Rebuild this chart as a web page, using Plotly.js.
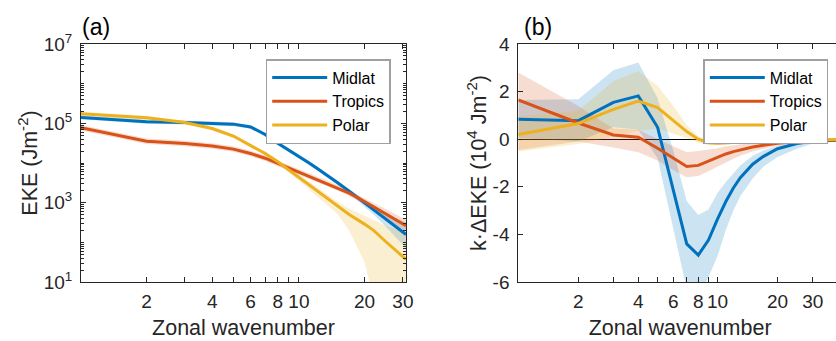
<!DOCTYPE html>
<html>
<head>
<meta charset="utf-8">
<script src="https://cdn.plot.ly/plotly-3.0.1.min.js"></script>
<style>html,body{margin:0;padding:0;overflow:hidden;background:#fff}</style>
</head>
<body>
<div id="chart"></div>
<script>
// ---------- Panel (a): EKE spectra (J m^-2) ----------
const kA = [1,2,3,4,5,6,7,8,9,10,11,12,13,14,15,17,20,22,25,28,31];
const midlatA    = [1.41e5,1.10e5,1.05e5,1.00e5,9.55e4,8.13e4,5.25e4,3.16e4,2.14e4,1.48e4,1.05e4,7.59e3,5.62e3,4.27e3,3.24e3,1.95e3,1.0e3,676,398,245,158];
const midlatA_lo = [1.26e5,9.8e4,9.35e4,8.9e4,8.5e4,7.25e4,4.68e4,2.82e4,1.91e4,1.32e4,9.36e3,6.76e3,5.0e3,3.8e3,2.89e3,1.70e3,794,501,251,132,71];
const midlatA_hi = [1.58e5,1.23e5,1.18e5,1.12e5,1.07e5,9.1e4,5.9e4,3.55e4,2.4e4,1.66e4,1.18e4,8.51e3,6.31e3,4.79e3,3.63e3,2.24e3,1.175e3,851,562,407,316];
const tropicsA    = [7.76e4,3.55e4,3.09e4,2.69e4,2.24e4,1.74e4,1.32e4,9.77e3,7.41e3,5.89e3,4.79e3,3.98e3,3.31e3,2.82e3,2.40e3,1.74e3,1.07e3,794,525,363,263];
const tropicsA_lo = [6.6e4,3.02e4,2.63e4,2.29e4,1.91e4,1.48e4,1.12e4,8.31e3,6.31e3,5.01e3,4.08e3,3.39e3,2.82e3,2.4e3,2.04e3,1.48e3,911,646,398,263,186];
const tropicsA_hi = [9.12e4,4.17e4,3.63e4,3.16e4,2.63e4,2.04e4,1.55e4,1.15e4,8.71e3,6.92e3,5.63e3,4.68e3,3.89e3,3.31e3,2.82e3,2.04e3,1.26e3,977,692,501,372];
const polarA    = [1.74e5,1.38e5,1.05e5,7.41e4,4.79e4,2.82e4,1.74e4,1.07e4,6.61e3,4.27e3,2.88e3,2.04e3,1.48e3,1.07e3,813,501,288,200,105,61.7,37.2];
const polarA_lo = [1.55e5,1.23e5,9.33e4,6.61e4,4.27e4,2.51e4,1.55e4,9.55e3,5.5e3,3.55e3,2.29e3,1.51e3,1.0e3,708,525,200,31.6,4,1,1,1];
const polarA_hi = [1.95e5,1.55e5,1.17e5,8.32e4,5.37e4,3.16e4,1.95e4,1.2e4,7.59e3,5.13e3,3.55e3,2.57e3,1.91e3,1.41e3,1.07e3,708,457,355,263,214,178];

// ---------- Panel (b): k * delta EKE (10^4 J m^-2) ----------
const kB = [1,2,3,4,5,6,7,8,9,10,11,12,13,15,17,20,25,30,40,46];
const midlatB    = [0.84,0.78,1.55,1.82,0.5,-2.1,-4.4,-4.87,-4.24,-3.35,-2.62,-2.05,-1.62,-1.05,-0.72,-0.4,-0.18,-0.09,-0.04,-0.02];
const midlatB_hi = [1.65,1.68,2.9,3.22,1.72,-0.5,-2.6,-3.18,-2.95,-2.25,-1.8,-1.42,-1.1,-0.7,-0.47,-0.27,-0.13,-0.07,-0.03,-0.01];
const midlatB_lo = [0.05,-0.1,0.5,0.4,-0.8,-3.8,-6.3,-6.6,-5.8,-4.9,-3.8,-3.0,-2.4,-1.65,-1.15,-0.75,-0.4,-0.18,-0.07,-0.04];
const tropicsB    = [1.65,0.68,0.18,0.08,-0.38,-0.8,-1.15,-1.1,-0.92,-0.75,-0.62,-0.52,-0.45,-0.33,-0.25,-0.17,-0.1,-0.06,-0.03,-0.02];
const tropicsB_hi = [2.8,1.4,0.45,0.4,0.0,-0.3,-0.55,-0.5,-0.45,-0.38,-0.3,-0.25,-0.22,-0.15,-0.1,-0.07,-0.04,-0.02,-0.01,0];
const tropicsB_lo = [-0.45,-0.1,-0.35,-0.55,-0.9,-1.3,-1.6,-1.55,-1.35,-1.15,-0.95,-0.82,-0.7,-0.52,-0.4,-0.28,-0.17,-0.1,-0.05,-0.03];
const polarB    = [0.2,0.66,1.25,1.6,1.33,0.8,0.32,0.0,-0.15,-0.17,-0.15,-0.13,-0.11,-0.08,-0.06,-0.05,-0.03,-0.02,-0.01,-0.01];
const polarB_hi = [0.95,1.2,2.45,2.85,2.25,1.4,0.6,0.12,-0.05,-0.08,-0.08,-0.07,-0.06,-0.04,-0.03,-0.02,-0.01,0,0,0];
const polarB_lo = [-0.52,-0.2,0.1,0.35,0.45,0.25,0.05,-0.15,-0.25,-0.25,-0.22,-0.2,-0.17,-0.13,-0.1,-0.08,-0.05,-0.04,-0.02,-0.02];

const seriesNames = ['Midlat','Tropics','Polar'];
const lineColors = ['#0072BD','#D95319','#EDB120'];
const bandColors = ['rgba(0,114,189,0.2)','rgba(217,83,25,0.2)','rgba(237,177,32,0.2)'];

const xTickVals = [2,4,6,8,10,20,30];
const xTickText = ['2','4','6','8','10','20','30'];
const xMinorVals = [3,5,7,9];
const yTickValsA = [1e1,1e3,1e5,1e7];
const yTickTextA = ['10<sup>1</sup>','10<sup>3</sup>','10<sup>5</sup>','10<sup>7</sup>'];
const yTickValsB = [-6,-4,-2,0,2,4];

const W = 842, H = 352;
const FONT = '"Liberation Sans", Arial, Helvetica, sans-serif';
const AX = '#262626';

const minorY = [];
for (let d = 1; d < 7; d++) for (let m = 2; m <= 10; m++) { const v = m * Math.pow(10, d); if (v !== 1e3 && v !== 1e5 && v !== 1e7) minorY.push(v); }

const traces = [];
const panels = [
  {k: kA, xa: 'x', ya: 'y', leg: 'legend', data: [[midlatA,midlatA_lo,midlatA_hi],[tropicsA,tropicsA_lo,tropicsA_hi],[polarA,polarA_lo,polarA_hi]]},
  {k: kB, xa: 'x2', ya: 'y2', leg: 'legend2', data: [[midlatB,midlatB_lo,midlatB_hi],[tropicsB,tropicsB_lo,tropicsB_hi],[polarB,polarB_lo,polarB_hi]]}
];
panels.forEach(p => {
  p.data.forEach((s, i) => {
    traces.push({x: p.k, y: s[1], xaxis: p.xa, yaxis: p.ya, mode: 'lines', line: {width: 0, color: bandColors[i]}, showlegend: false, hoverinfo: 'skip', legend: p.leg});
    traces.push({x: p.k, y: s[2], xaxis: p.xa, yaxis: p.ya, mode: 'lines', line: {width: 0, color: bandColors[i]}, fill: 'tonexty', fillcolor: bandColors[i], showlegend: false, hoverinfo: 'skip', legend: p.leg});
  });
  p.data.forEach((s, i) => {
    traces.push({x: p.k, y: s[0], xaxis: p.xa, yaxis: p.ya, mode: 'lines', name: seriesNames[i], legend: p.leg, line: {width: 3, color: lineColors[i]}});
  });
});

const TICKFONT = {family: FONT, size: 19, color: AX};
const TITLEFONT = {family: FONT, size: 21.5, color: AX};
const axBase = {
  showline: true, linecolor: AX, linewidth: 1, mirror: 'allticks',
  ticks: 'inside', ticklen: 5, tickcolor: AX, tickwidth: 1,
  showgrid: false, zeroline: false, tickfont: TICKFONT
};
const xMinor = {tickvals: xMinorVals, ticks: 'inside', ticklen: 5, tickcolor: AX, tickwidth: 1};

const PT = 44, PB = 282;               // plot area top / bottom in px
const legBase = {
  bgcolor: '#ffffff', bordercolor: '#a0a0a0', borderwidth: 1.5,
  font: {family: FONT, size: 16, color: '#000'}, traceorder: 'normal',
  itemwidth: 55, tracegroupgap: 0, xanchor: 'right', yanchor: 'top', y: (PB-59)/(PB-PT)
};

const layout = {
  width: W, height: H,
  margin: {l: 0, r: 0, t: PT, b: H-PB},
  paper_bgcolor: '#fff', plot_bgcolor: '#fff',
  font: {family: FONT, color: AX},
  xaxis: Object.assign({}, axBase, {type: 'log', domain: [81/W, 406/W], range: [0, Math.log10(31)], anchor: 'y',
    tickmode: 'array', tickvals: xTickVals, ticktext: xTickText, ticklabelstandoff: 2, minor: xMinor,
    title: {text: 'Zonal wavenumber', font: TITLEFONT, standoff: 9}}),
  yaxis: Object.assign({}, axBase, {type: 'log', domain: [0, 1], range: [1, 7], anchor: 'x',
    tickmode: 'array', tickvals: yTickValsA, ticktext: yTickTextA, ticklabelstandoff: 4,
    minor: {tickvals: minorY, ticks: 'inside', ticklen: 3, tickcolor: AX, tickwidth: 1},
    title: {text: 'EKE (Jm<sup>-2</sup>)', font: TITLEFONT, standoff: 0}}),
  xaxis2: Object.assign({}, axBase, {type: 'log', domain: [518.3/W, 1], range: [0, (W-518.3)/199.3], anchor: 'y2',
    tickmode: 'array', tickvals: xTickVals, ticktext: xTickText, ticklabelstandoff: 2, minor: xMinor,
    title: {text: 'Zonal wavenumber', font: TITLEFONT, standoff: 9}}),
  yaxis2: Object.assign({}, axBase, {domain: [0, 1], range: [-6, 4], anchor: 'x2',
    tickmode: 'array', tickvals: yTickValsB, ticktext: yTickValsB.map(String), ticklabelstandoff: 4,
    zeroline: true, zerolinecolor: '#000', zerolinewidth: 1.2,
    title: {text: 'k·ΔEKE (10<sup>4</sup> Jm<sup>-2</sup>)', font: TITLEFONT, standoff: 0}}),
  legend: Object.assign({}, legBase, {x: 390.7/W}),
  legend2: Object.assign({}, legBase, {x: 828.3/W}),
  annotations: [
    {text: '(a)', xref: 'paper', yref: 'paper', x: 80/W, y: (PB-27)/(PB-PT), xanchor: 'left', yanchor: 'middle', showarrow: false, font: {family: FONT, size: 23, color: '#000'}},
    {text: '(b)', xref: 'paper', yref: 'paper', x: 522/W, y: (PB-27)/(PB-PT), xanchor: 'left', yanchor: 'middle', showarrow: false, font: {family: FONT, size: 23, color: '#000'}}
  ],
  showlegend: true
};

Plotly.newPlot('chart', traces, layout, {staticPlot: true, displayModeBar: false});
</script>
</body>
</html>
